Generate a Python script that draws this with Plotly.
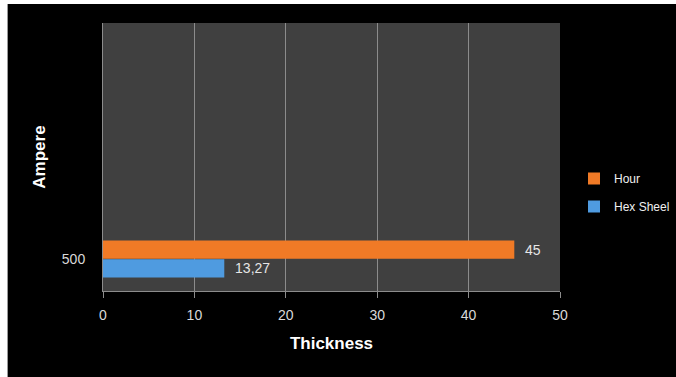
import plotly.graph_objects as go

categories = ["500"]
hex_sheel = [13.27]
hour = [45]
x_ticks = [0, 10, 20, 30, 40, 50]

W, H = 676, 377
L, R, T, B = 103, 116, 23, 86
pw, ph = W - L - R, H - T - B

def px_x(p):
    return (p - L) / pw

def px_y(p):
    return (H - B - p) / ph

fig = go.Figure()
fig.add_trace(go.Bar(
    y=categories, x=hex_sheel, name="Hex Sheel", orientation="h",
    legendgroup="hex", legendrank=2,
    marker=dict(color="#4F9BE0", line=dict(width=0)),
    text=hex_sheel, texttemplate="  %{x:.2f}", textposition="outside",
    textfont=dict(color="#e6e6e6", size=14), cliponaxis=False,
))
fig.add_trace(go.Bar(
    y=categories, x=hour, name="Hour", orientation="h",
    legendgroup="hour", legendrank=1,
    marker=dict(color="#F07A26", line=dict(width=0)),
    text=hour, texttemplate="  %{x}", textposition="outside",
    textfont=dict(color="#e6e6e6", size=14), cliponaxis=False,
))

font_family = "Liberation Sans Narrow, Liberation Sans, Arial, sans-serif"

fig.update_layout(
    width=W, height=H,
    margin=dict(l=L, r=R, t=T, b=B, autoexpand=False),
    paper_bgcolor="#000000",
    plot_bgcolor="#404040",
    separators=",.",
    barmode="group",
    bargap=0.41,
    bargroupgap=0.03,
    font=dict(family=font_family, color="#d9d9d9", size=13),
    showlegend=True,
    legend=dict(
        x=px_x(574), y=px_y(164), xanchor="left", yanchor="top",
        traceorder="grouped", font=dict(size=12, color="#f0f0f0"),
        itemwidth=30, tracegroupgap=9, bgcolor="rgba(0,0,0,0)",
    ),
    xaxis=dict(
        range=[0, 50], tickvals=x_ticks, ticks="outside", ticklen=6,
        tickcolor="#8c8c8c", showgrid=True, gridcolor="#8c8c8c", gridwidth=1,
        showline=True, linecolor="#8c8c8c", zeroline=False,
        tickfont=dict(size=14, color="#d9d9d9"), ticklabelstandoff=5,
        title=dict(text="<b>Thickness</b>", font=dict(size=17, color="#ffffff"), standoff=15),
    ),
    yaxis=dict(
        type="category", range=[-0.5, 3.69], showgrid=False,
        showline=True, linecolor="#8c8c8c", ticks="", ticklabelstandoff=14,
        tickfont=dict(size=14, color="#d9d9d9"),
        title=dict(text="<b>Ampere</b>", font=dict(size=17, color="#ffffff"), standoff=11),
    ),
    shapes=[
        dict(type="rect", xref="paper", yref="paper",
             x0=px_x(0), x1=px_x(7), y0=px_y(H), y1=px_y(0),
             fillcolor="#ffffff", line=dict(width=0)),
        dict(type="rect", xref="paper", yref="paper",
             x0=px_x(0), x1=px_x(W), y0=px_y(4), y1=px_y(0),
             fillcolor="#ffffff", line=dict(width=0)),
        dict(type="line", xref="paper", yref="paper",
             x0=px_x(7.5), x1=px_x(7.5), y0=px_y(H), y1=px_y(4),
             line=dict(color="#9a9a9a", width=1)),
    ],
)

fig.write_html("out.html")
